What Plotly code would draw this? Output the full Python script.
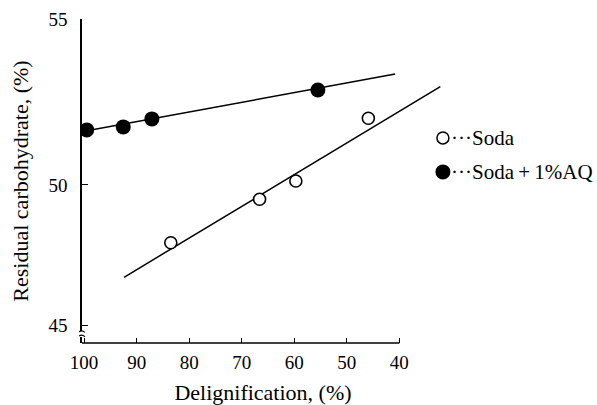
import plotly.graph_objects as go

# Data
soda_x = [83.5, 66.6, 59.7, 45.9]
soda_y = [48.26, 49.57, 50.12, 52.01]
aq_x = [99.5, 92.55, 87.1, 55.5]
aq_y = [51.66, 51.75, 51.99, 52.86]

# fitted lines (end points)
soda_fit_x = [92.4, 32.2]
soda_fit_y = [47.22, 52.96]
aq_fit_x = [100.0, 40.8]
aq_fit_y = [51.62, 53.34]

x_ticks = [100, 90, 80, 70, 60, 50, 40]
y_tickvals = [45.78, 50, 55]
y_ticktext = ["45", "50", "55"]

legend_labels = ["···Soda", "···Soda\u2009+\u20091%AQ"]

FONT = "Liberation Serif"

fig = go.Figure()
fig.add_trace(go.Scatter(x=soda_fit_x, y=soda_fit_y, mode="lines",
                         line=dict(color="black", width=1.5), showlegend=False))
fig.add_trace(go.Scatter(x=aq_fit_x, y=aq_fit_y, mode="lines",
                         line=dict(color="black", width=1.5), showlegend=False))
fig.add_trace(go.Scatter(x=soda_x, y=soda_y, mode="markers",
                         marker=dict(symbol="circle", size=12, color="white",
                                     line=dict(color="black", width=1.6)),
                         showlegend=False))
fig.add_trace(go.Scatter(x=aq_x, y=aq_y, mode="markers",
                         marker=dict(symbol="circle", size=15, color="black",
                                     line=dict(color="black", width=0)),
                         showlegend=False))

fig.update_xaxes(range=[100.4, 31.5], showline=False, showgrid=False, zeroline=False,
                 automargin=False,
                 tickvals=x_ticks, ticks="inside", ticklen=5, tickcolor="black",
                 tickfont=dict(family=FONT, size=19, color="black"),
                 ticklabelstandoff=6,
                 title=dict(text="Delignification, (%)", font=dict(family=FONT, size=22, color="black"),
                            standoff=15))
fig.update_yaxes(range=[45.24, 55], showline=True, linecolor="black", linewidth=1.5,
                 showgrid=False, zeroline=False, automargin=False,
                 tickvals=y_tickvals, ticktext=y_ticktext, ticks="inside", ticklen=6,
                 tickcolor="black", tickfont=dict(family=FONT, size=19, color="black"),
                 ticklabelstandoff=9,
                 title=dict(text="Residual carbohydrate, (%)",
                            font=dict(family=FONT, size=22, color="black"), standoff=14))

shapes = []
# x axis line (ends at 40)
shapes.append(dict(type="line", xref="x", yref="paper", x0=100.4, x1=40, y0=0, y1=0,
                   line=dict(color="black", width=1.5)))
# axis break on y axis
shapes.append(dict(type="rect", xref="paper", yref="y", x0=-0.012, x1=0.012, y0=45.42, y1=45.6,
                   fillcolor="white", line=dict(width=0)))
shapes.append(dict(type="path", xref="paper", yref="y",
                   path="M -0.008,45.58 Q 0,45.64 0.008,45.56", line=dict(color="black", width=1.2)))
shapes.append(dict(type="path", xref="paper", yref="y",
                   path="M -0.008,45.45 Q 0,45.51 0.008,45.43", line=dict(color="black", width=1.2)))
# legend markers
shapes.append(dict(type="circle", xref="paper", yref="paper", xsizemode="pixel", ysizemode="pixel",
                   xanchor=0.997, yanchor=0.633, x0=-6, x1=6, y0=-6, y1=6,
                   fillcolor="white", line=dict(color="black", width=1.5)))
shapes.append(dict(type="circle", xref="paper", yref="paper", xsizemode="pixel", ysizemode="pixel",
                   xanchor=0.997, yanchor=0.528, x0=-7.5, x1=7.5, y0=-7.5, y1=7.5,
                   fillcolor="black", line=dict(color="black", width=0)))

annotations = [
    dict(xref="paper", yref="paper", x=1.014, y=0.633, xanchor="left", yanchor="middle",
         text=legend_labels[0], showarrow=False, font=dict(family=FONT, size=21, color="black")),
    dict(xref="paper", yref="paper", x=1.014, y=0.528, xanchor="left", yanchor="middle",
         text=legend_labels[1], showarrow=False, font=dict(family=FONT, size=21, color="black")),
]

fig.update_layout(width=597, height=405, margin=dict(l=82, r=153, t=19, b=62),
                  plot_bgcolor="white", paper_bgcolor="white",
                  font=dict(family=FONT, color="black"),
                  shapes=shapes, annotations=annotations, showlegend=False)

fig.write_html("out.html")
